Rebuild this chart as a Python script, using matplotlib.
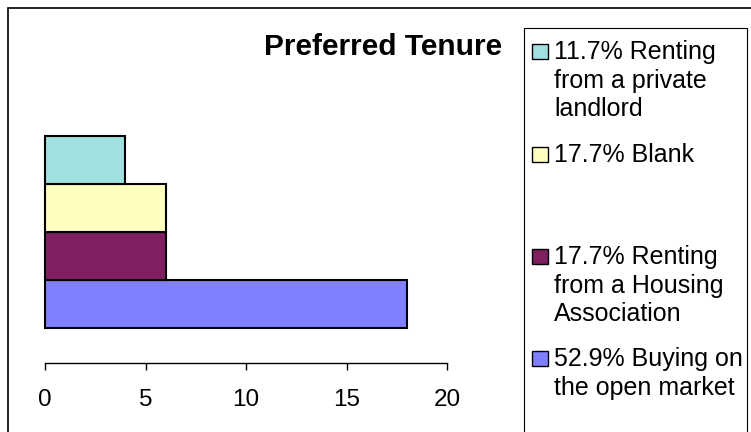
import matplotlib.pyplot as plt
from matplotlib.patches import Rectangle

plt.rcParams['font.family'] = ['Liberation Sans', 'DejaVu Sans']

# bars from bottom to top
legend_lines = [
    ['52.9% Buying on', 'the open market'],
    ['17.7% Renting', 'from a Housing', 'Association'],
    ['17.7% Blank'],
    ['11.7% Renting', 'from a private', 'landlord'],
]
values = [18, 6, 6, 4]
colors = ['#8080FF', '#802060', '#FFFFC0', '#A0E0E0']
xticks = [0, 5, 10, 15, 20]
title = 'Preferred Tenure'

W, H = 751, 432


def fx(px):
    return px / W


def fy(py):
    return 1 - py / H


fig = plt.figure(figsize=(W / 100, H / 100), dpi=100)

ax = fig.add_axes([fx(45), fy(363), (447 - 45) / W, (363 - 90) / H])
ax.barh(range(len(values)), values, height=1.0, color=colors,
        edgecolor='black', linewidth=1.5, clip_on=False)
ax.set_xlim(0, 20)
ax.set_ylim(-1.229, 4.458)
for s in ['left', 'right', 'top']:
    ax.spines[s].set_visible(False)
ax.spines['bottom'].set_linewidth(1)
ax.set_yticks([])
ax.set_xticks(xticks)
ax.tick_params(axis='x', direction='out', length=5, width=1, pad=14,
               labelsize=17.5)

fig.text(fx(383), fy(55), title, ha='center', va='baseline',
         fontsize=21.5, fontweight='bold')

# outer chart border (runs off the right/bottom edge)
fig.add_artist(Rectangle((fx(8), fy(520)), (820 - 8) / W, (520 - 8) / H,
                         transform=fig.transFigure, fill=False,
                         edgecolor='black', linewidth=1.2))

# legend box
fig.add_artist(Rectangle((fx(524), fy(480)), (747 - 524) / W, (480 - 28) / H,
                         transform=fig.transFigure, fill=False,
                         edgecolor='black', linewidth=0.8))

first_baseline = [366, 264, 162, 59]
line_step = 28.7
for lines, col, yb in zip(legend_lines, colors, first_baseline):
    fig.add_artist(Rectangle((fx(532), fy(yb)), 16 / W, 15 / H,
                             transform=fig.transFigure, facecolor=col,
                             edgecolor='black', linewidth=1.0))
    for k, txt in enumerate(lines):
        fig.text(fx(554), fy(yb + k * line_step), txt, ha='left',
                 va='baseline', fontsize=18)

fig.savefig('out.png', dpi=100)
